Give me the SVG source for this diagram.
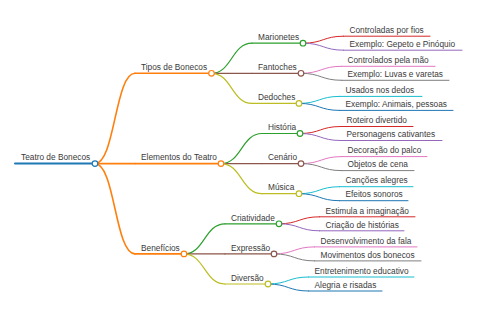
<svg xmlns="http://www.w3.org/2000/svg" width="480" height="320" viewBox="0 0 480 320">
<style>
text{font-family:"Liberation Sans",Arial,sans-serif;font-size:8.3px;fill:#3a3a3a}
path,line{fill:none;stroke-linecap:round}
circle{fill:#fff}
.w0{stroke-width:2}
.w1{stroke-width:1.6}
.w2{stroke-width:1.2}
.w3{stroke-width:1}
.blue{stroke:#1f77b4}.orange{stroke:#ff7f0e}.green{stroke:#2ca02c}.red{stroke:#d62728}.purple{stroke:#9467bd}.brown{stroke:#8c564b}.pink{stroke:#e377c2}.gray{stroke:#7f7f7f}.olive{stroke:#bcbd22}.cyan{stroke:#17becf}
</style>
<rect width="480" height="320" fill="#fff"/>
<g id="connectors">
<!-- root to level1 -->
<path class="orange w1" d="M95,163.6 C115,163.6 115,73.3 135,73.3"/>
<path class="orange w1" d="M95,163.6 L135,163.6"/>
<path class="orange w1" d="M95,163.6 C115,163.6 115,253.9 135,253.9"/>
<!-- Tipos to level2 -->
<path class="green w2" d="M211.5,73.3 C231.75,73.3 231.75,43.2 252,43.2"/>
<path class="brown w2" d="M211.5,73.3 L252,73.3"/>
<path class="olive w2" d="M211.5,73.3 C231.75,73.3 231.75,103.4 252,103.4"/>
<!-- Elementos -->
<path class="green w2" d="M221,163.6 C241.5,163.6 241.5,133.5 262,133.5"/>
<path class="brown w2" d="M221,163.6 L262,163.6"/>
<path class="olive w2" d="M221,163.6 C241.5,163.6 241.5,193.7 262,193.7"/>
<!-- Beneficios -->
<path class="green w2" d="M184,253.9 C204.5,253.9 204.5,223.8 225,223.8"/>
<path class="brown w2" d="M184,253.9 L225,253.9"/>
<path class="olive w2" d="M184,253.9 C204.5,253.9 204.5,284 225,284"/>
<!-- level2 to leaves -->
<path class="red w3" d="M303,43.2 C323.25,43.2 323.25,36.2 343.5,36.2"/>
<path class="purple w3" d="M303,43.2 C323.25,43.2 323.25,50.2 343.5,50.2"/>
<path class="pink w3" d="M301,73.3 C321.25,73.3 321.25,66.3 341.5,66.3"/>
<path class="gray w3" d="M301,73.3 C321.25,73.3 321.25,80.3 341.5,80.3"/>
<path class="cyan w3" d="M299,103.4 C319.25,103.4 319.25,96.4 339.5,96.4"/>
<path class="blue w3" d="M299,103.4 C319.25,103.4 319.25,110.4 339.5,110.4"/>
<path class="red w3" d="M300,133.5 C320.25,133.5 320.25,126.5 340.5,126.5"/>
<path class="purple w3" d="M300,133.5 C320.25,133.5 320.25,140.5 340.5,140.5"/>
<path class="pink w3" d="M301,163.6 C321.25,163.6 321.25,156.6 341.5,156.6"/>
<path class="gray w3" d="M301,163.6 C321.25,163.6 321.25,170.6 341.5,170.6"/>
<path class="cyan w3" d="M299,193.7 C319.25,193.7 319.25,186.7 339.5,186.7"/>
<path class="blue w3" d="M299,193.7 C319.25,193.7 319.25,200.7 339.5,200.7"/>
<path class="red w3" d="M279,223.8 C299.25,223.8 299.25,216.8 319.5,216.8"/>
<path class="purple w3" d="M279,223.8 C299.25,223.8 299.25,230.8 319.5,230.8"/>
<path class="pink w3" d="M274,253.9 C294.25,253.9 294.25,246.9 314.5,246.9"/>
<path class="gray w3" d="M274,253.9 C294.25,253.9 294.25,260.9 314.5,260.9"/>
<path class="cyan w3" d="M268,284 C288.25,284 288.25,277 308.5,277"/>
<path class="blue w3" d="M268,284 C288.25,284 288.25,291 308.5,291"/>
</g>
<g id="n-root"><line class="blue w0" x1="15" y1="163.6" x2="95" y2="163.6"/><circle class="blue w2" cx="95" cy="163.6" r="2.8"/><text x="21" y="160.3">Teatro de Bonecos</text></g>
<g id="n-tipos"><line class="orange w1" x1="135" y1="73.3" x2="211.5" y2="73.3"/><circle class="orange w2" cx="211.5" cy="73.3" r="2.8"/><text x="141" y="70">Tipos de Bonecos</text></g>
<g id="n-elementos"><line class="orange w1" x1="135" y1="163.6" x2="221" y2="163.6"/><circle class="orange w2" cx="221" cy="163.6" r="2.8"/><text x="141" y="160.3">Elementos do Teatro</text></g>
<g id="n-beneficios"><line class="orange w1" x1="135" y1="253.9" x2="184" y2="253.9"/><circle class="orange w2" cx="184" cy="253.9" r="2.8"/><text x="141" y="250.6">Benefícios</text></g>
<g id="n-marionetes"><line class="green w2" x1="252" y1="43.2" x2="303" y2="43.2"/><circle class="green w2" cx="303" cy="43.2" r="2.8"/><text x="258" y="39.9">Marionetes</text></g>
<g id="n-fantoches"><line class="brown w2" x1="252" y1="73.3" x2="301" y2="73.3"/><circle class="brown w2" cx="301" cy="73.3" r="2.8"/><text x="258" y="70">Fantoches</text></g>
<g id="n-dedoches"><line class="olive w2" x1="252" y1="103.4" x2="299" y2="103.4"/><circle class="olive w2" cx="299" cy="103.4" r="2.8"/><text x="258" y="100.1">Dedoches</text></g>
<g id="n-historia"><line class="green w2" x1="262" y1="133.5" x2="300" y2="133.5"/><circle class="green w2" cx="300" cy="133.5" r="2.8"/><text x="268" y="130.2">História</text></g>
<g id="n-cenario"><line class="brown w2" x1="262" y1="163.6" x2="301" y2="163.6"/><circle class="brown w2" cx="301" cy="163.6" r="2.8"/><text x="268" y="160.3">Cenário</text></g>
<g id="n-musica"><line class="olive w2" x1="262" y1="193.7" x2="299" y2="193.7"/><circle class="olive w2" cx="299" cy="193.7" r="2.8"/><text x="268" y="190.4">Música</text></g>
<g id="n-criatividade"><line class="green w2" x1="225" y1="223.8" x2="279" y2="223.8"/><circle class="green w2" cx="279" cy="223.8" r="2.8"/><text x="231" y="220.5">Criatividade</text></g>
<g id="n-expressao"><line class="brown w2" x1="225" y1="253.9" x2="274" y2="253.9"/><circle class="brown w2" cx="274" cy="253.9" r="2.8"/><text x="231" y="250.6">Expressão</text></g>
<g id="n-diversao"><line class="olive w2" x1="225" y1="284" x2="268" y2="284"/><circle class="olive w2" cx="268" cy="284" r="2.8"/><text x="231" y="280.7">Diversão</text></g>
<g id="l1"><line class="red w3" x1="343.5" y1="36.2" x2="430" y2="36.2"/><text x="349.5" y="32.9">Controladas por fios</text></g>
<g id="l2"><line class="purple w3" x1="343.5" y1="50.2" x2="462" y2="50.2"/><text x="349.5" y="46.9">Exemplo: Gepeto e Pinóquio</text></g>
<g id="l3"><line class="pink w3" x1="341.5" y1="66.3" x2="435" y2="66.3"/><text x="347.5" y="63">Controlados pela mão</text></g>
<g id="l4"><line class="gray w3" x1="341.5" y1="80.3" x2="449" y2="80.3"/><text x="347.5" y="77">Exemplo: Luvas e varetas</text></g>
<g id="l5"><line class="cyan w3" x1="339.5" y1="96.4" x2="422" y2="96.4"/><text x="345.5" y="93.1">Usados nos dedos</text></g>
<g id="l6"><line class="blue w3" x1="339.5" y1="110.4" x2="453" y2="110.4"/><text x="345.5" y="107.1">Exemplo: Animais, pessoas</text></g>
<g id="l7"><line class="red w3" x1="340.5" y1="126.5" x2="413" y2="126.5"/><text x="346.5" y="123.2">Roteiro divertido</text></g>
<g id="l8"><line class="purple w3" x1="340.5" y1="140.5" x2="442" y2="140.5"/><text x="346.5" y="137.2">Personagens cativantes</text></g>
<g id="l9"><line class="pink w3" x1="341.5" y1="156.6" x2="427" y2="156.6"/><text x="347.5" y="153.3">Decoração do palco</text></g>
<g id="l10"><line class="gray w3" x1="341.5" y1="170.6" x2="414" y2="170.6"/><text x="347.5" y="167.3">Objetos de cena</text></g>
<g id="l11"><line class="cyan w3" x1="339.5" y1="186.7" x2="413" y2="186.7"/><text x="345.5" y="183.4">Canções alegres</text></g>
<g id="l12"><line class="blue w3" x1="339.5" y1="200.7" x2="408" y2="200.7"/><text x="345.5" y="197.4">Efeitos sonoros</text></g>
<g id="l13"><line class="red w3" x1="319.5" y1="216.8" x2="415" y2="216.8"/><text x="325.5" y="213.5">Estimula a imaginação</text></g>
<g id="l14"><line class="purple w3" x1="319.5" y1="230.8" x2="404" y2="230.8"/><text x="325.5" y="227.5">Criação de histórias</text></g>
<g id="l15"><line class="pink w3" x1="314.5" y1="246.9" x2="417" y2="246.9"/><text x="320.5" y="243.6">Desenvolvimento da fala</text></g>
<g id="l16"><line class="gray w3" x1="314.5" y1="260.9" x2="421" y2="260.9"/><text x="320.5" y="257.6">Movimentos dos bonecos</text></g>
<g id="l17"><line class="cyan w3" x1="308.5" y1="277" x2="414" y2="277"/><text x="314.5" y="273.7">Entretenimento educativo</text></g>
<g id="l18"><line class="blue w3" x1="308.5" y1="291" x2="382" y2="291"/><text x="314.5" y="287.7">Alegria e risadas</text></g>
</svg>
